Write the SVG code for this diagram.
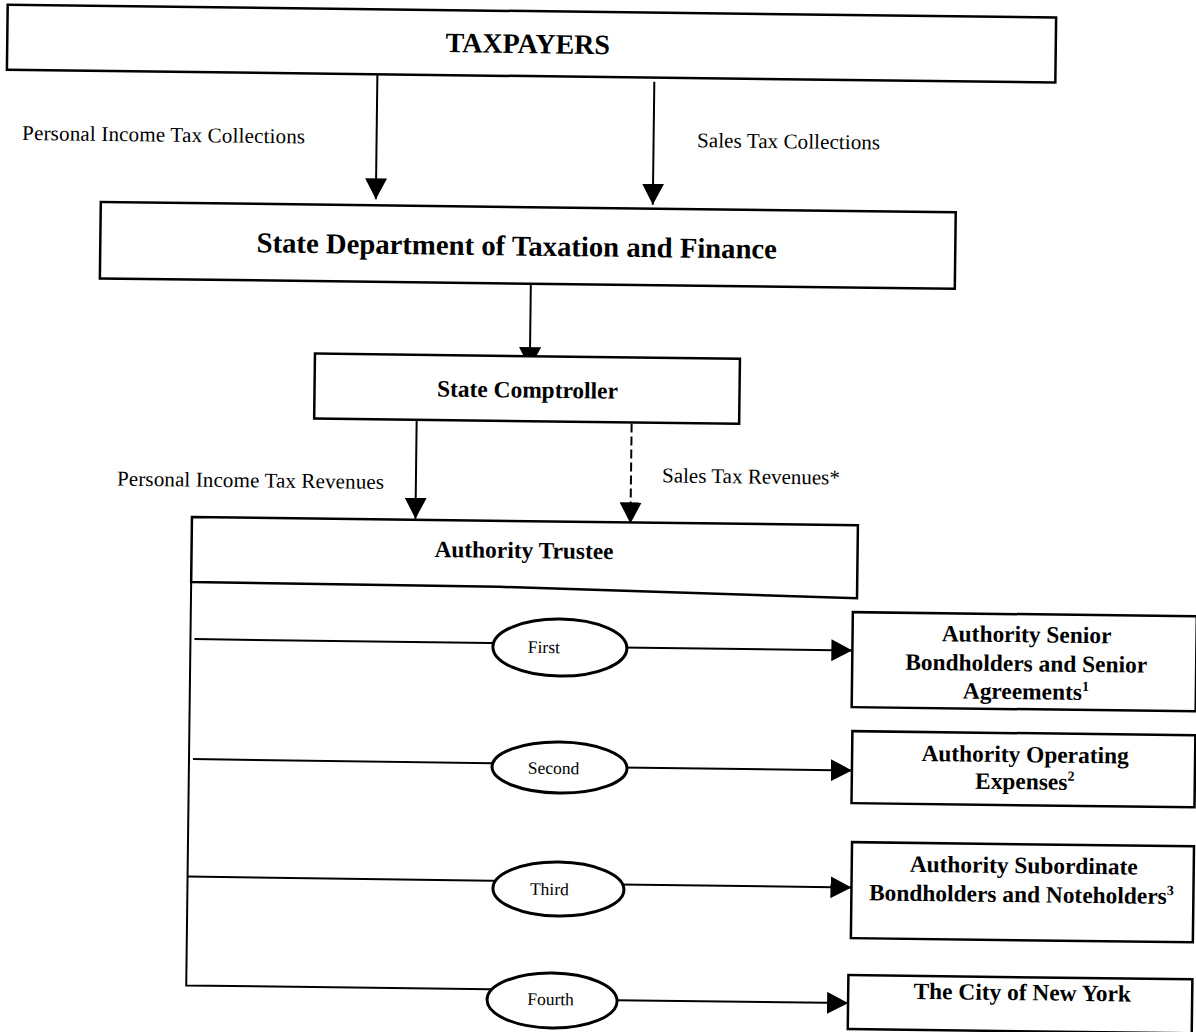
<svg xmlns="http://www.w3.org/2000/svg" width="1196" height="1032" viewBox="0 0 1196 1032">
<defs>
<marker id="ah" markerUnits="userSpaceOnUse" markerWidth="21" markerHeight="22" viewBox="0 0 21 22" refX="21" refY="11" orient="auto"><path d="M0,0 L21,11 L0,22 Z" fill="#000"/></marker>
<style>
.box{fill:#fff;stroke:#000;stroke-width:2.5}
.oval{fill:#fff;stroke:#000;stroke-width:3}
.ln{fill:none;stroke:#000;stroke-width:2}
.arr{fill:none;stroke:#000;stroke-width:2;marker-end:url(#ah)}
.dash{stroke-dasharray:9 4}
.lbl{font-family:"Liberation Serif","Times New Roman",serif;font-size:21px;fill:#000}
.t{font-family:"Liberation Serif","Times New Roman",serif;font-weight:bold;fill:#000;text-anchor:middle;font-size:23.4px}
.o{font-family:"Liberation Serif","Times New Roman",serif;font-size:17.5px;fill:#000;text-anchor:middle}
.sup{font-size:14px}
</style>
</defs>
<rect width="1196" height="1032" fill="#fff"/>
<g transform="rotate(0.7 598 516)">
<g id="connectors">
<line class="arr" x1="372" y1="77" x2="372" y2="202"/>
<line class="arr" x1="649" y1="81" x2="649" y2="204"/>
<line class="arr" x1="528" y1="285" x2="528" y2="369"/>
<line class="arr" x1="415.5" y1="422" x2="415.5" y2="521"/>
<line class="arr dash" x1="630.5" y1="423" x2="630.5" y2="523"/>
<path class="ln" d="M192,587 V990.5 H558"/>
<line class="ln" x1="196" y1="644" x2="561" y2="644.5"/>
<line class="ln" x1="196" y1="764" x2="562" y2="764.5"/>
<line class="ln" x1="192" y1="881.5" x2="563" y2="882"/>
<line class="arr" x1="561" y1="647.3" x2="854" y2="647.3"/>
<line class="arr" x1="562" y1="767.3" x2="855" y2="767.3"/>
<line class="arr" x1="563" y1="884.3" x2="856" y2="884.3"/>
<line class="arr" x1="558" y1="1000" x2="854" y2="1000"/>
<text class="lbl" x="17.5" y="147" textLength="283">Personal Income Tax Collections</text>
<text class="lbl" x="692.5" y="146" textLength="183">Sales Tax Collections</text>
<text class="lbl" x="116.6" y="491.5" textLength="267">Personal Income Tax Revenues</text>
<text class="lbl" x="661.6" y="481.6">Sales Tax Revenues*</text>
</g>
<g id="taxpayers">
<rect class="box" x="1.5" y="12" width="1048.5" height="65"/>
<text class="t" x="522" y="54" style="font-size:28px">TAXPAYERS</text>
</g>
<g id="state-dept">
<rect class="box" x="97" y="208" width="855" height="76.5"/>
<text class="t" x="513.5" y="256.5" style="font-size:28.7px">State Department of Taxation and Finance</text>
</g>
<g id="comptroller">
<rect class="box" x="313" y="357" width="425" height="65"/>
<text class="t" x="526" y="398.5">State Comptroller</text>
</g>
<g id="trustee">
<path class="box" d="M192,522 H858 V595 L500,588 L192,587 Z"/>
<text class="t" x="524.5" y="559">Authority Trustee</text>
</g>
<g id="first">
<ellipse class="oval" cx="561.5" cy="648" rx="67" ry="28.5"/>
<text class="o" x="545.5" y="653.7">First</text>
</g>
<g id="second">
<ellipse class="oval" cx="562.6" cy="768" rx="67.5" ry="25.5"/>
<text class="o" x="556.6" y="774.5">Second</text>
</g>
<g id="third">
<ellipse class="oval" cx="563" cy="889.5" rx="65.5" ry="27"/>
<text class="o" x="554" y="895.6">Third</text>
</g>
<g id="fourth">
<ellipse class="oval" cx="558" cy="1001" rx="65" ry="27.5"/>
<text class="o" x="556.5" y="1005.6">Fourth</text>
</g>
<g id="senior">
<rect class="box" x="854" y="609" width="344" height="95"/>
<text class="t" x="1028" y="637">Authority Senior</text>
<text class="t" x="1028" y="666">Bondholders and Senior</text>
<text class="t" x="1028" y="694">Agreements<tspan class="sup" dy="-9">1</tspan></text>
</g>
<g id="operating">
<rect class="box" x="855" y="728" width="343" height="72"/>
<text class="t" x="1028" y="757">Authority Operating</text>
<text class="t" x="1028" y="784">Expenses<tspan class="sup" dy="-9">2</tspan></text>
</g>
<g id="subordinate">
<rect class="box" x="856" y="839" width="342" height="96"/>
<text class="t" x="1028" y="868">Authority Subordinate</text>
<text class="t" x="1026" y="897">Bondholders and Noteholders<tspan class="sup" dy="-9">3</tspan></text>
</g>
<g id="city">
<rect class="box" x="854" y="972" width="344" height="54"/>
<text class="t" x="1028" y="995">The City of New York</text>
</g>
</g>
</svg>
